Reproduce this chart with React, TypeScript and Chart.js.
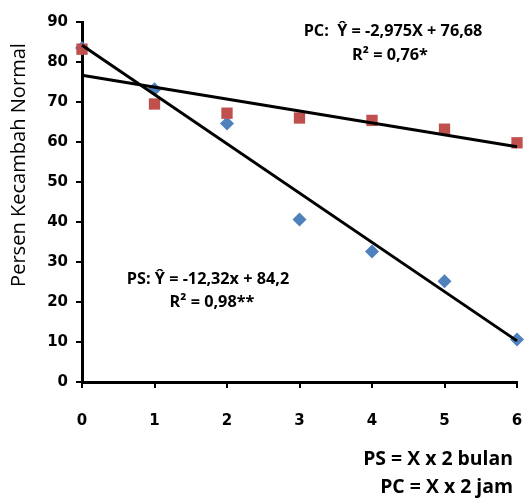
import React, { useEffect, useRef } from "react";
import { Chart, registerables } from "chart.js";
Chart.register(...registerables);

const xValues = [0, 1, 2, 3, 4, 5, 6];
const psValues = [83.5, 73.2, 64.6, 40.6, 32.6, 25.2, 10.6];
const pcValues = [83.2, 69.5, 67.2, 66.0, 65.4, 63.2, 59.8];
// regression coefficients [intercept, slope]
const psFit = [84.2, -12.32];
const pcFit = [76.68, -2.975];
const fitRange = [0, 6];
const yTicks = [0, 10, 20, 30, 40, 50, 60, 70, 80, 90];

const TICKFONT = "'DejaVu Sans', sans-serif";
const TEXTFONT = "'Open Sans', sans-serif";

function sizeFor(ctx: CanvasRenderingContext2D, text: string, width: number, weight: string) {
  ctx.font = `${weight} 20px ${TEXTFONT}`;
  return (20 * width) / ctx.measureText(text).width;
}

function drawText(
  ctx: CanvasRenderingContext2D,
  text: string,
  x: number,
  y: number,
  size: number,
  align: CanvasTextAlign,
  weight: string
) {
  ctx.font = `${weight} ${size.toFixed(2)}px ${TEXTFONT}`;
  ctx.textAlign = align;
  ctx.fillText(text, x, y);
}

const textPlugin = {
  id: "texts",
  afterDraw(chart: any) {
    const ctx = chart.ctx as CanvasRenderingContext2D;
    ctx.save();
    ctx.fillStyle = "#000";
    ctx.textBaseline = "middle";
    ctx.save();
    ctx.translate(19, 165);
    ctx.rotate(-Math.PI / 2);
    const t = "Persen Kecambah Normal";
    drawText(ctx, t, 0, 0, sizeFor(ctx, t, 244, "normal"), "center", "normal");
    ctx.restore();

    const pcEq = "PC:  Ŷ = -2,975X + 76,68";
    const psEq = "PS: Ŷ = -12,32x + 84,2";
    const r1 = "R² = 0,76*";
    const s =
      (sizeFor(ctx, pcEq, 190, "bold") +
        sizeFor(ctx, psEq, 150, "bold") +
        sizeFor(ctx, r1, 77, "bold")) /
      3;
    drawText(ctx, pcEq, 393, 31, s, "center", "bold");
    drawText(ctx, r1, 390, 55, s, "center", "bold");
    drawText(ctx, psEq, 208, 279, s, "center", "bold");
    drawText(ctx, "R² = 0,98**", 212, 302, s, "center", "bold");
    const b1 = "PS = X x 2 bulan";
    const sb = sizeFor(ctx, b1, 150, "bold");
    drawText(ctx, b1, 513, 459, sb, "right", "bold");
    drawText(ctx, "PC = X x 2 jam", 513, 487, sb, "right", "bold");
    ctx.restore();
  },
};

export default function App() {
  const ref = useRef<HTMLCanvasElement>(null);
  useEffect(() => {
    const line = (fit: number[]) =>
      fitRange.map((x) => ({ x, y: fit[0] + fit[1] * x }));
    const axisCommon = {
      grid: {
        drawOnChartArea: false,
        drawTicks: true,
        tickLength: 6,
        color: "#000",
        lineWidth: 2,
      },
      border: { color: "#000", width: 3 },
    };
    const chart = new Chart(ref.current!, {
      type: "scatter",
      data: {
        datasets: [
          {
            label: "PS fit",
            data: line(psFit),
            showLine: true,
            borderColor: "#000",
            borderWidth: 3,
            pointRadius: 0,
            order: 0,
          },
          {
            label: "PC fit",
            data: line(pcFit),
            showLine: true,
            borderColor: "#000",
            borderWidth: 3,
            pointRadius: 0,
            order: 0,
          },
          {
            label: "PS",
            data: xValues.map((x, i) => ({ x, y: psValues[i] })),
            pointStyle: "rectRot",
            pointRadius: 7,
            backgroundColor: "#4F81BD",
            borderColor: "#4F81BD",
            borderWidth: 0,
            order: 2,
          },
          {
            label: "PC",
            data: xValues.map((x, i) => ({ x, y: pcValues[i] })),
            pointStyle: "rect",
            pointRadius: 8,
            backgroundColor: "#C0504D",
            borderColor: "#C0504D",
            borderWidth: 0,
            order: 1,
          },
        ],
      },
      options: {
        animation: false,
        responsive: false,
        clip: false as any,
        layout: { padding: { left: 0, right: 9, top: 22, bottom: 0 } },
        plugins: { legend: { display: false }, tooltip: { enabled: false } },
        scales: {
          x: {
            type: "linear",
            min: 0,
            max: 6,
            afterFit: (s: any) => {
              s.height = 116;
              s.paddingLeft = 0;
              s.paddingRight = 0;
            },
            afterBuildTicks: (s: any) => {
              s.ticks = xValues.map((v) => ({ value: v }));
            },
            ticks: {
              color: "#000",
              font: { family: TICKFONT, size: 15, weight: "bold" },
              padding: 24,
            },
            ...axisCommon,
          },
          y: {
            min: 0,
            max: 90,
            afterFit: (s: any) => {
              s.width = 82;
              s.paddingTop = 0;
              s.paddingBottom = 0;
            },
            afterBuildTicks: (s: any) => {
              s.ticks = yTicks.map((v) => ({ value: v }));
            },
            ticks: {
              color: "#000",
              font: { family: TICKFONT, size: 15, weight: "bold" },
              padding: 8,
            },
            ...axisCommon,
          },
        },
      },
      plugins: [textPlugin],
    });
    return () => chart.destroy();
  }, []);
  return (
    <div style={{ position: "absolute", left: 0, top: 0, width: 526, height: 498, background: "#fff" }}>
      <canvas ref={ref} width={526} height={498} style={{ width: 526, height: 498 }} />
    </div>
  );
}
